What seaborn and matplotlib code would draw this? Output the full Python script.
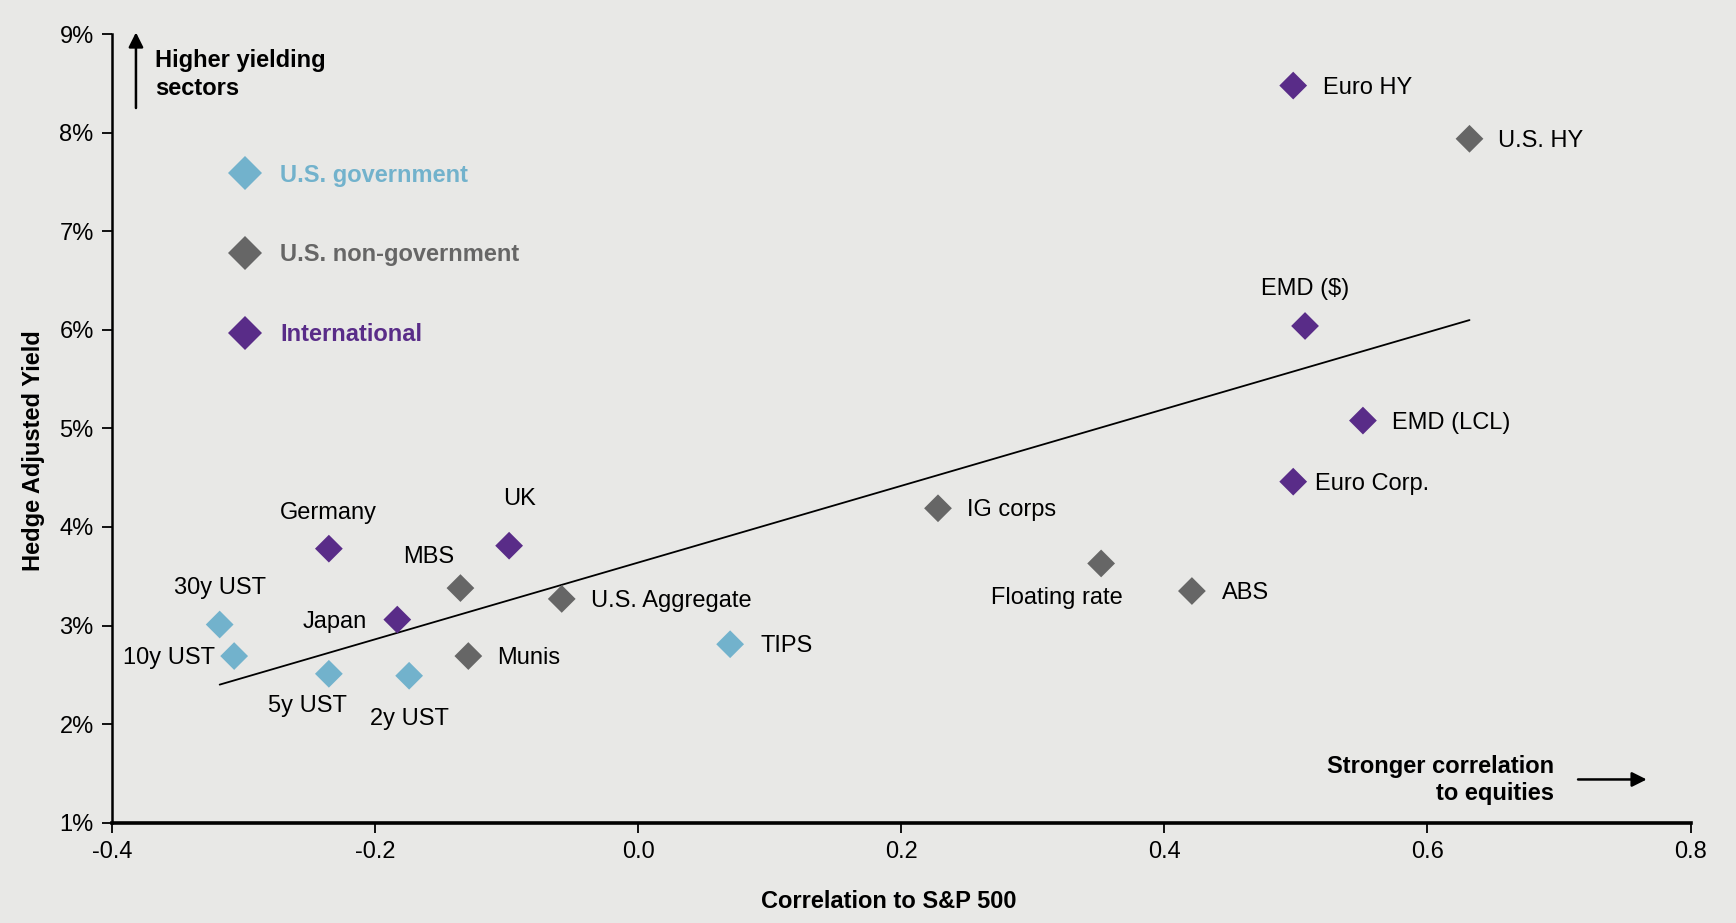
import matplotlib
matplotlib.use("Agg")
import matplotlib.pyplot as plt
from matplotlib.lines import Line2D
import seaborn as sns
import pandas as pd

# data
names = ["Euro HY", "U.S. HY", "EMD ($)", "EMD (LCL)", "Euro Corp.", "IG corps",
         "Floating rate", "ABS", "TIPS", "U.S. Aggregate", "Munis", "MBS", "UK",
         "Germany", "Japan", "2y UST", "5y UST", "10y UST", "30y UST"]
corr = [0.498, 0.632, 0.507, 0.551, 0.498, 0.228, 0.352, 0.421, 0.070, -0.058,
        -0.129, -0.135, -0.098, -0.235, -0.183, -0.174, -0.235, -0.307, -0.318]
yld = [8.48, 7.94, 6.04, 5.08, 4.46, 4.19, 3.63, 3.35, 2.81, 3.27, 2.69, 3.38,
       3.81, 3.78, 3.06, 2.49, 2.51, 2.69, 3.01]
group = ["International", "U.S. non-government", "International", "International",
         "International", "U.S. non-government", "U.S. non-government",
         "U.S. non-government", "U.S. government", "U.S. non-government",
         "U.S. non-government", "U.S. non-government", "International",
         "International", "International", "U.S. government", "U.S. government",
         "U.S. government", "U.S. government"]
groups = ["U.S. government", "U.S. non-government", "International"]
colors = ["#72B2CC", "#666666", "#592C88"]

trend_x = [-0.318, 0.632]
trend_y = [2.40, 6.10]

x_ticks = [-0.4, -0.2, 0.0, 0.2, 0.4, 0.6, 0.8]
y_ticks = [1, 2, 3, 4, 5, 6, 7, 8, 9]

# label placement: dx, dy (pixels), ha
label_pos = {
    "Euro HY": (30, -2, "left"), "U.S. HY": (29, -2, "left"),
    "EMD ($)": (0, 37, "center"), "EMD (LCL)": (29, -2, "left"),
    "Euro Corp.": (22, -2, "left"), "IG corps": (29, -2, "left"),
    "Floating rate": (-44, -35, "center"), "ABS": (30, -2, "left"),
    "TIPS": (30, -2, "left"), "U.S. Aggregate": (29, -2, "left"),
    "Munis": (29, -2, "left"), "MBS": (-32, 31, "center"),
    "UK": (10, 47, "center"), "Germany": (0, 36, "center"),
    "Japan": (-30, -2, "right"), "2y UST": (0, -43, "center"),
    "5y UST": (-21, -32, "center"), "10y UST": (-19, -2, "right"),
    "30y UST": (0, 37, "center"),
}

df = pd.DataFrame({"name": names, "corr": corr, "yld": yld, "group": group})

bg = "#E8E8E6"
sns.set_style("white")
plt.rcParams["font.family"] = ["Liberation Sans", "DejaVu Sans"]
plt.rcParams["text.color"] = "black"
plt.rcParams["axes.labelcolor"] = "black"
plt.rcParams["xtick.color"] = "black"
plt.rcParams["ytick.color"] = "black"

fig = plt.figure(figsize=(17.36, 9.23), dpi=100, facecolor=bg)
ax = fig.add_axes([0.0644, 0.1088, 0.9094, 0.854])
ax.set_facecolor(bg)

ax.plot(trend_x, trend_y, color="black", lw=1.3, zorder=1)

sns.scatterplot(data=df, x="corr", y="yld", hue="group", hue_order=groups,
                palette=colors, marker="D", s=200, linewidth=0, legend=False,
                ax=ax, zorder=3)

for n, x, y in zip(names, corr, yld):
    dx, dy, ha = label_pos[n]
    ax.annotate(n, (x, y), xytext=(dx, dy), textcoords="offset pixels",
                ha=ha, va="center", fontsize=17, color="black")

ax.set_xlim(-0.4, 0.8)
ax.set_ylim(1, 9)
ax.set_xticks(x_ticks)
ax.set_xticklabels([f"{t:.1f}" for t in x_ticks])
ax.set_yticks(y_ticks)
ax.set_yticklabels([f"{t}%" for t in y_ticks])
ax.tick_params(labelsize=17, length=7, width=1.3, direction="out",
               left=True, bottom=True, pad=6, colors="black")

for s in ["top", "right"]:
    ax.spines[s].set_visible(False)
ax.spines["left"].set_linewidth(1.8)
ax.spines["bottom"].set_linewidth(2.6)
ax.spines["left"].set_color("black")
ax.spines["bottom"].set_color("black")

ax.set_xlabel("Correlation to S&P 500", fontsize=17, fontweight="bold")
ax.set_ylabel("Hedge Adjusted Yield", fontsize=17, fontweight="bold")
ax.xaxis.set_label_coords(0.492, -0.086)
ax.yaxis.set_label_coords(-0.042, 0.472)

# legend
handles = [Line2D([], [], marker="D", linestyle="", markersize=17,
                  markerfacecolor=c, markeredgewidth=0) for c in colors]
leg = ax.legend(handles, groups, loc="upper left", bbox_to_anchor=(0.0767, 0.836),
                frameon=False, borderpad=0, borderaxespad=0, handlelength=1.0,
                handletextpad=1.0, labelspacing=2.4,
                prop={"size": 17, "weight": "bold"})
for t, c in zip(leg.get_texts(), colors):
    t.set_color(c)

# direction notes
ax.annotate("", xy=(0.0153, 1.006), xytext=(0.0153, 0.903), xycoords="axes fraction",
            arrowprops=dict(arrowstyle="-|>", color="black", lw=1.8, mutation_scale=22),
            annotation_clip=False)
ax.text(0.0274, 0.949, "Higher yielding\nsectors", transform=ax.transAxes,
        ha="left", va="center", fontsize=17, fontweight="bold", linespacing=1.25)
ax.annotate("", xy=(0.974, 0.0547), xytext=(0.927, 0.0547), xycoords="axes fraction",
            arrowprops=dict(arrowstyle="-|>", color="black", lw=1.8, mutation_scale=22))
ax.text(0.9135, 0.0537, "Stronger correlation\nto equities", transform=ax.transAxes,
        ha="right", va="center", multialignment="right", fontsize=17,
        fontweight="bold", linespacing=1.25)

fig.savefig("out.png", dpi=100, facecolor=bg)
